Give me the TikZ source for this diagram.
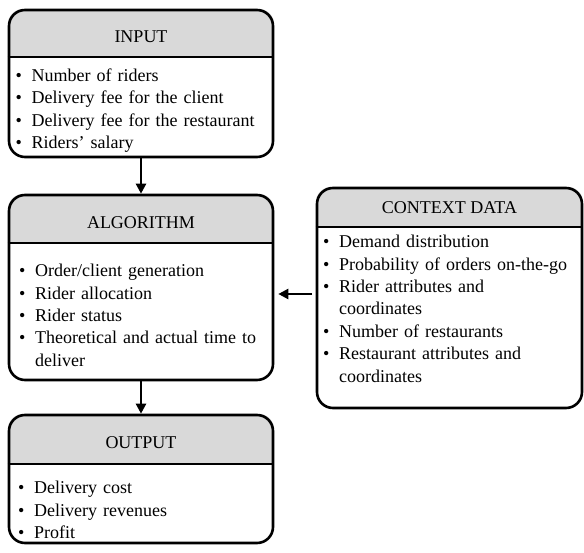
\documentclass[tikz,border=0pt]{standalone}
\usepackage{fontspec}
\setmainfont{Liberation Serif}
\usetikzlibrary{
    positioning,
    arrows.meta,
    backgrounds
}
\definecolor{headgray}{RGB}{217,217,217}
\newcommand{\bitem}[1]{\noindent\unskip\hangindent=16pt\hangafter=1\makebox[16pt][l]{\textbullet}#1\par}
\tikzset{
    panel/.style={
        draw,
        line width=2.6pt,
        rounded corners=16pt,
        inner sep=0pt
    },
    title/.style={
        font=\fontsize{18}{22}\selectfont
    },
    items/.style={
        anchor=north west,
        inner sep=0pt,
        align=left,
        text width=#1,
        font=\fontsize{18}{22.4}\selectfont
    },
    flow/.style={
        ->,
        line width=2.3pt,
        >={Triangle[length=10pt,width=10pt]}
    },
    divline/.style={line width=2pt}
}
\begin{document}
\begin{tikzpicture}[x=1pt, y=1pt]

    \useasboundingbox (0,0) rectangle (584,-553);

    % Bloques
    \node[panel, minimum width=264pt, minimum height=147pt] (input) at (141,-83.5)  {};
    \node[panel, minimum width=264pt, minimum height=185pt] (alg)   at (141,-287.5) {};
    \node[panel, minimum width=264pt, minimum height=128pt] (out)   at (141,-479)   {};
    \node[panel, minimum width=265pt, minimum height=220pt] (ctx)   at (449.5,-298) {};

    % Cabeceras
    \begin{scope}[on background layer]
        \foreach \p/\d in {input/-57, alg/-243, out/-464, ctx/-227} {
            \begin{scope}
                \clip[rounded corners=16pt] (\p.north west) rectangle (\p.south east);
                \fill[headgray] (\p.north west) rectangle (\p.east |- 0,\d);
            \end{scope}
        }
    \end{scope}
    \foreach \p/\d in {input/-57, alg/-243, out/-464, ctx/-227}
        \draw[divline] (\p.west |- 0,\d) -- (\p.east |- 0,\d);

    % Titulos
    \node[title] (input-t) at (141,-36.7)   {INPUT};
    \node[title] (alg-t)   at (141,-223)    {ALGORITHM};
    \node[title] (out-t)   at (141,-443)    {OUTPUT};
    \node[title] (ctx-t)   at (449.5,-208)  {CONTEXT DATA};

    % Listas
    \node[items=250pt] (input-l) at (15.5,-68.5) {%
        \bitem{Number of riders}
        \bitem{Delivery fee for the client}
        \bitem{Delivery fee for the restaurant}
        \bitem{Riders' salary}
    };
    \node[items=250pt] (alg-l) at (19,-264) {%
        \bitem{Order/client generation}
        \bitem{Rider allocation}
        \bitem{Rider status}
        \bitem{Theoretical and actual time to\newline deliver}
    };
    \node[items=250pt] (out-l) at (18,-481) {%
        \bitem{Delivery cost}
        \bitem{Delivery revenues}
        \bitem{Profit}
    };
    \node[items=255pt] (ctx-l) at (323,-235) {%
        \bitem{Demand distribution}
        \bitem{Probability of orders on-the-go}
        \bitem{Rider attributes and\newline coordinates}
        \bitem{Number of restaurants}
        \bitem{Restaurant attributes and\newline coordinates}
    };

    % Flechas
    \coordinate (feed) at (312,-294);
    \draw[flow] (input) -- (alg);
    \draw[flow] (alg) -- (out);
    \draw[flow, shorten >=4pt] (feed) -- (alg.east |- feed);

\end{tikzpicture}
\end{document}
